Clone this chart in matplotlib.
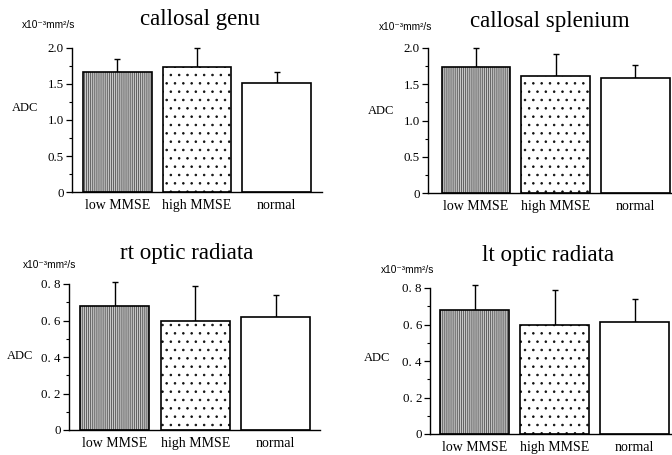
import matplotlib
matplotlib.use("Agg")
import matplotlib.pyplot as plt
from matplotlib.ticker import MultipleLocator, FixedLocator

categories = ["low MMSE", "high MMSE", "normal"]
titles = ["callosal genu", "callosal splenium", "rt optic radiata", "lt optic radiata"]
genu_mean = [1.67, 1.73, 1.51]
genu_sd = [0.17, 0.27, 0.15]
splen_mean = [1.73, 1.61, 1.59]
splen_sd = [0.26, 0.31, 0.17]
rt_mean = [0.68, 0.60, 0.62]
rt_sd = [0.13, 0.19, 0.12]
lt_mean = [0.68, 0.60, 0.615]
lt_sd = [0.135, 0.187, 0.125]
ticks_callosal = [0, 0.5, 1.0, 1.5, 2.0]
ticklabels_callosal = ["0", "0.5", "1.0", "1.5", "2.0"]
ticks_optic = [0, 0.2, 0.4, 0.6, 0.8]
ticklabels_optic = ["0", "0. 2", "0. 4", "0. 6", "0. 8"]
unit_label = "x10\u207b\u00b3mm\u00b2/s"

plt.rcParams["hatch.linewidth"] = 0.6

W, H = 672, 455
fig = plt.figure(figsize=(W / 100, H / 100), dpi=100)
SERIF = "Liberation Serif"

def px_axes(left, right, bottom, top):
    return fig.add_axes([left / W, 1 - bottom / H, (right - left) / W, (bottom - top) / H])

panels = [
    dict(box=(72, 322, 192.3, 47.7), xl=(-0.57, 2.57), mean=genu_mean, sd=genu_sd,
         ymax=2.0, ticks=ticks_callosal, tl=ticklabels_callosal, minor=0.25,
         title=titles[0], tpos=(200, 19), upos=(22, 25), apos=(25, 108)),
    dict(box=(428, 672, 193.3, 47.7), xl=(-0.6, 2.46), mean=splen_mean, sd=splen_sd,
         ymax=2.0, ticks=ticks_callosal, tl=ticklabels_callosal, minor=0.25,
         title=titles[1], tpos=(550, 21), upos=(379, 27), apos=(381, 111)),
    dict(box=(69, 320, 430, 284), xl=(-0.569, 2.549), mean=rt_mean, sd=rt_sd,
         ymax=0.8, ticks=ticks_optic, tl=ticklabels_optic, minor=0.1,
         title=titles[2], tpos=(187, 254), upos=(23, 265), apos=(20, 356)),
    dict(box=(430.3, 672, 434, 288), xl=(-0.555, 2.465), mean=lt_mean, sd=lt_sd,
         ymax=0.8, ticks=ticks_optic, tl=ticklabels_optic, minor=0.1,
         title=titles[3], tpos=(548, 256), upos=(381, 270), apos=(377, 358)),
]

face = ["#c8c8c8", "white", "white"]
hatches = ["|" * 8, "..", None]
hcol = ["#505050", "#101010", "black"]

for p in panels:
    ax = px_axes(*p["box"])
    x = list(range(len(categories)))
    for i in x:
        ax.bar(i, p["mean"][i], width=0.86, color=face[i], hatch=hatches[i],
               edgecolor=hcol[i], linewidth=0, zorder=2)
    ax.bar(x, p["mean"], width=0.86, fill=False, edgecolor="black", linewidth=1.2, zorder=3)
    eb = ax.errorbar(x, p["mean"], yerr=[[0] * 3, p["sd"]], fmt="none", ecolor="black",
                     elinewidth=1.0, capsize=2.3, capthick=1.0, zorder=1)
    for art in eb.lines[1] + eb.lines[2]:
        art.set_clip_on(False)
    ax.set_xlim(*p["xl"])
    ax.set_ylim(0, p["ymax"])
    ax.set_xticks(x)
    ax.set_xticklabels(categories, fontfamily=SERIF, fontsize=10)
    ax.tick_params(axis="x", length=0, pad=5)
    ax.yaxis.set_major_locator(FixedLocator(p["ticks"]))
    ax.set_yticklabels(p["tl"], fontfamily=SERIF, fontsize=9.3)
    ax.yaxis.set_minor_locator(MultipleLocator(p["minor"]))
    ax.tick_params(axis="y", which="major", length=4, width=0.9, pad=2)
    ax.tick_params(axis="y", which="minor", length=2, width=0.8)
    for s in ("top", "right"):
        ax.spines[s].set_visible(False)
    for s in ("left", "bottom"):
        ax.spines[s].set_linewidth(1.0)
    fig.text(p["tpos"][0] / W, 1 - p["tpos"][1] / H, p["title"], ha="center", va="center",
             fontfamily=SERIF, fontsize=16.5)
    fig.text(p["upos"][0] / W, 1 - p["upos"][1] / H, unit_label, ha="left", va="center",
             family=["Liberation Sans", "DejaVu Sans"], fontsize=7.3)
    fig.text(p["apos"][0] / W, 1 - p["apos"][1] / H, "ADC", ha="center", va="center",
             fontfamily=SERIF, fontsize=9)

fig.savefig("out.png", dpi=100)
